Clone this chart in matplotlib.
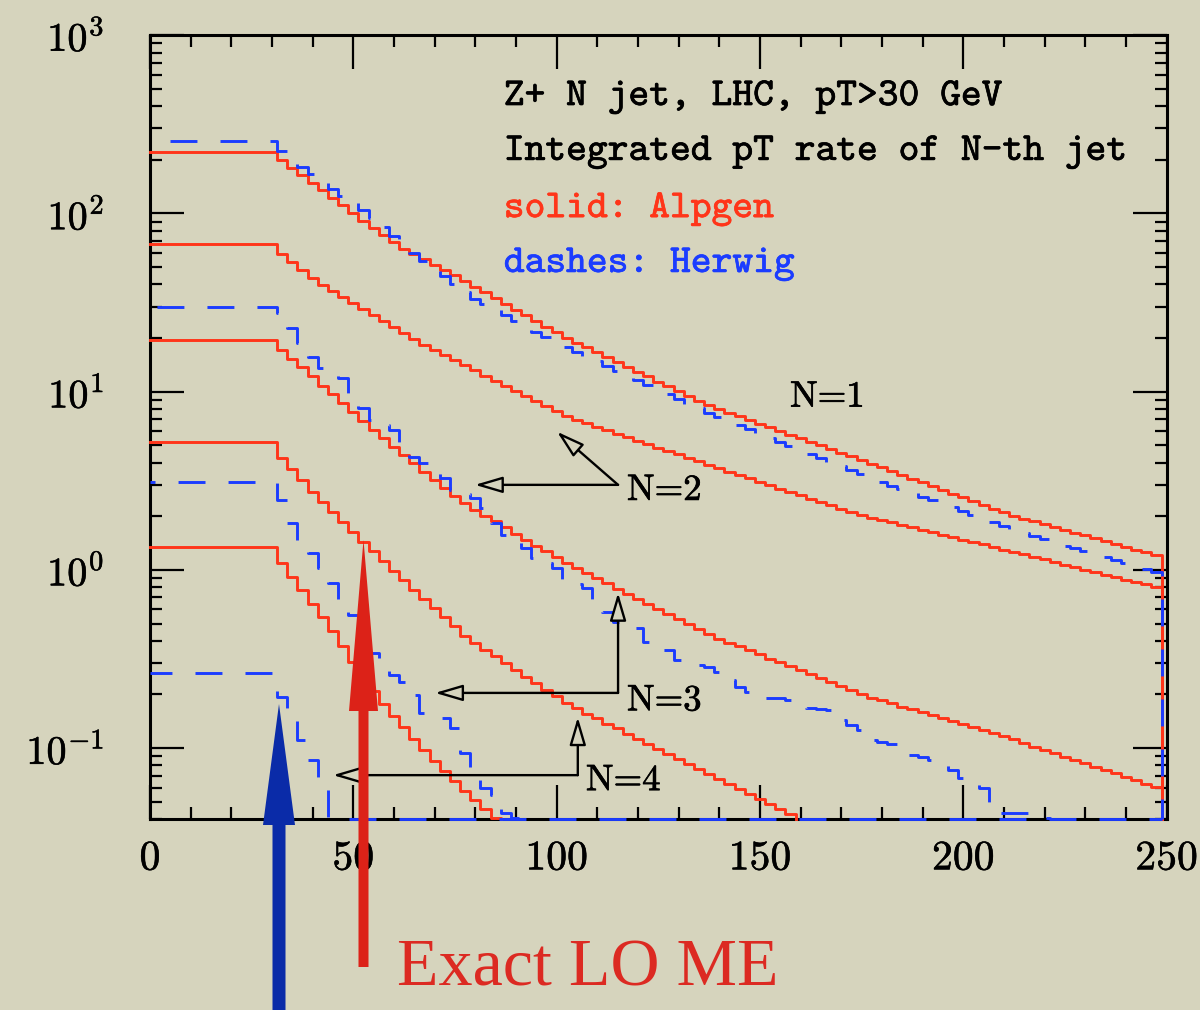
import numpy as np
import matplotlib
matplotlib.use("Agg")
import matplotlib.pyplot as plt
import matplotlib.patheffects as pe
from matplotlib.patches import Polygon
from matplotlib.ticker import FixedLocator, FixedFormatter, MultipleLocator, LogLocator, NullFormatter

# ---------------- data ----------------
PT_CUT = 30.0            # all curves are flat below the jet pT cut
FIRST_EDGE = 31.25       # first histogram edge after the flat part
BIN_WIDTH = 2.5          # histogram bin width (GeV)
YMIN, YMAX = 0.04, 1000.0

x_ticks = [0, 50, 100, 150, 200, 250]
x_tick_labels = ["0", "50", "100", "150", "200", "250"]
y_ticks = [0.1, 1, 10, 100, 1000]
y_tick_labels = [r"$10^{-1}$", r"$10^{0}$", r"$10^{1}$", r"$10^{2}$", r"$10^{3}$"]

# Alpgen (solid red): integrated rate below the cut, then per 2.5 GeV bin
alpgen_flat = [220.0, 67.6, 19.4, 5.25, 1.35]
alpgen_1 = [199, 180, 164, 148, 135, 122, 111, 100, 91.2, 83.0,
            75.7, 69.0, 63.5, 59.3, 55.3, 51.5, 48.1, 44.9, 41.9, 38.9,
            36.1, 33.5, 31.1, 28.8, 26.8, 24.9, 23.2, 21.5, 20.0, 18.8,
            17.7, 16.6, 15.6, 14.7, 13.8, 12.9, 12.2, 11.4, 10.7, 10.1,
            9.48, 8.91, 8.38, 7.98, 7.62, 7.28, 6.93, 6.62, 6.32, 6.03,
            5.75, 5.50, 5.24, 5.00, 4.78, 4.55, 4.35, 4.14, 3.95, 3.77,
            3.58, 3.41, 3.25, 3.10, 2.95, 2.81, 2.67, 2.55, 2.43, 2.31,
            2.20, 2.10, 2.01, 1.94, 1.87, 1.80, 1.74, 1.68, 1.62, 1.56,
            1.51, 1.45, 1.40, 1.35, 1.30, 1.26, 1.21]
alpgen_2 = [58.9, 53.2, 48.1, 43.6, 39.6, 36.6, 33.9, 31.3, 29.0, 26.9,
            24.8, 23.0, 21.3, 19.7, 18.3, 17.1, 16.0, 15.0, 14.1, 13.2,
            12.3, 11.5, 10.8, 10.1, 9.46, 8.87, 8.32, 7.78, 7.29, 6.93,
            6.64, 6.34, 6.07, 5.81, 5.55, 5.31, 5.08, 4.85, 4.65, 4.45,
            4.25, 4.06, 3.89, 3.72, 3.56, 3.41, 3.27, 3.13, 2.99, 2.86,
            2.74, 2.62, 2.51, 2.41, 2.31, 2.21, 2.11, 2.03, 1.96, 1.90,
            1.85, 1.79, 1.73, 1.68, 1.63, 1.57, 1.53, 1.48, 1.43, 1.39,
            1.35, 1.30, 1.26, 1.22, 1.18, 1.15, 1.11, 1.07, 1.04, 1.00,
            0.973, 0.942, 0.912, 0.883, 0.855, 0.828, 0.800]
alpgen_3 = [17.2, 15.3, 13.7, 12.2, 10.8, 9.66, 8.61, 7.67, 6.84, 6.11,
            5.48, 4.92, 4.42, 3.96, 3.56, 3.19, 2.87, 2.61, 2.37, 2.17,
            2.01, 1.87, 1.73, 1.60, 1.48, 1.37, 1.27, 1.18, 1.09, 1.02,
            0.955, 0.895, 0.839, 0.785, 0.736, 0.689, 0.646, 0.605, 0.566, 0.531,
            0.497, 0.466, 0.437, 0.411, 0.391, 0.372, 0.353, 0.336, 0.318, 0.303,
            0.288, 0.274, 0.260, 0.247, 0.235, 0.223, 0.212, 0.202, 0.192, 0.185,
            0.178, 0.171, 0.165, 0.159, 0.153, 0.147, 0.141, 0.136, 0.131, 0.126,
            0.121, 0.117, 0.112, 0.107, 0.102, 0.098, 0.0938, 0.0897, 0.0859, 0.0822,
            0.0787, 0.0753, 0.0721, 0.0689, 0.0659, 0.0631, 0.0604]
alpgen_4 = [4.26, 3.68, 3.18, 2.75, 2.39, 2.10, 1.85, 1.64, 1.44, 1.27,
            1.12, 0.989, 0.873, 0.771, 0.685, 0.610, 0.542, 0.482, 0.428, 0.387,
            0.356, 0.327, 0.299, 0.275, 0.252, 0.232, 0.213, 0.195, 0.179, 0.167,
            0.156, 0.147, 0.137, 0.129, 0.120, 0.112, 0.105, 0.0986, 0.0923, 0.0865,
            0.0811, 0.0760, 0.0713, 0.0668, 0.0627, 0.0587, 0.0551, 0.0516, 0.0484, 0.0454,
            0.0426]
alpgen_5 = [1.09, 0.918, 0.771, 0.647, 0.543, 0.453, 0.372, 0.305, 0.254, 0.210,
            0.176, 0.152, 0.131, 0.113, 0.0979, 0.0851, 0.0745, 0.0653, 0.0575, 0.0512,
            0.0455, 0.0405]

# Herwig (dashed blue)
herwig_flat = [255.0, 30.0, 3.12, 0.263]
herwig_1 = [224, 202, 182, 166, 151, 137, 125, 114, 104, 93.8,
            83.9, 75.2, 67.3, 60.3, 54.2, 49.0, 44.4, 40.1, 36.3, 33.3,
            31.0, 28.8, 26.9, 25.0, 23.2, 21.6, 20.2, 19.0, 17.8, 16.7,
            15.7, 14.8, 13.9, 13.1, 12.3, 11.6, 10.9, 10.3, 9.66, 9.10,
            8.57, 8.05, 7.59, 7.18, 6.82, 6.47, 6.14, 5.82, 5.52, 5.24,
            4.97, 4.71, 4.47, 4.24, 4.02, 3.81, 3.62, 3.44, 3.27, 3.11,
            2.96, 2.83, 2.70, 2.58, 2.46, 2.35, 2.24, 2.14, 2.04, 1.95,
            1.86, 1.77, 1.69, 1.61, 1.54, 1.49, 1.43, 1.37, 1.32, 1.27,
            1.22, 1.18, 1.13, 1.09, 1.05, 1.01, 0.971]
herwig_2 = [27.8, 22.9, 18.8, 15.7, 13.6, 12.8, 12.0, 9.87, 8.13, 6.97,
            6.53, 6.12, 5.17, 4.31, 3.99, 3.65, 3.29, 2.81, 2.67, 2.54,
            2.23, 1.84, 1.57, 1.44, 1.33, 1.17, 1.09, 1.03, 0.879, 0.834,
            0.792, 0.661, 0.581, 0.510, 0.491, 0.472, 0.394, 0.374, 0.356, 0.312,
            0.301, 0.293, 0.285, 0.267, 0.241, 0.220, 0.206, 0.199, 0.191, 0.191,
            0.186, 0.170, 0.168, 0.166, 0.163, 0.144, 0.135, 0.126, 0.111, 0.108,
            0.105, 0.104, 0.0914, 0.0890, 0.0857, 0.0802, 0.0752, 0.0678, 0.0635, 0.0596,
            0.0491, 0.0431, 0.0431, 0.0431, 0.0431, 0.0405]
herwig_3 = [2.47, 1.84, 1.47, 1.25, 1.03, 0.845, 0.678, 0.558, 0.449, 0.342,
            0.312, 0.257, 0.235, 0.199, 0.157, 0.153, 0.148, 0.129, 0.0938, 0.0705,
            0.0596, 0.0545, 0.0431, 0.0405]
herwig_4 = [0.193, 0.153, 0.111, 0.0857, 0.0604,
            0, 0, 0, 0, 0, 0, 0, 0, 0, 0, 0, 0, 0, 0, 0, 0, 0, 0, 0, 0,
            0, 0, 0, 0, 0, 0, 0, 0, 0, 0, 0, 0, 0, 0, 0, 0, 0, 0, 0, 0,
            0, 0, 0, 0, 0, 0, 0, 0, 0, 0, 0, 0, 0, 0, 0, 0, 0, 0, 0, 0,
            0, 0, 0, 0, 0, 0, 0, 0, 0, 0, 0, 0, 0, 0, 0, 0, 0, 0, 0, 0,
            0, 0]

# annotation texts
header_lines = ["Z+ N jet, LHC, pT>30 GeV", "Integrated pT rate of N-th jet",
                "solid: Alpgen", "dashes: Herwig"]
n_labels = ["N=1", "N=2", "N=3", "N=4"]

# ---------------- style ----------------
plt.rcParams["lines.scale_dashes"] = False
plt.rcParams["mathtext.fontset"] = "cm"

BG = "#d6d4bd"
RED = "#ff3519"
BLUE = "#1b3cff"
LW = 2.1

fig = plt.figure(figsize=(12, 10.1), dpi=100, facecolor=BG)
ax = fig.add_axes([0.125, 0.1891, 0.8472, 0.7760])
ax.set_facecolor(BG)


def step_path(flat, vals):
    vals = np.maximum(np.asarray(vals, dtype=float), YMIN)
    n = len(vals)
    edges = FIRST_EDGE + BIN_WIDTH * np.arange(n + 1)
    xs = np.concatenate([[0.0], edges, [edges[-1]]])
    ys = np.concatenate([[flat], vals, [vals[-1]], [YMIN]])
    return xs, ys


for flat, vals in zip(alpgen_flat, [alpgen_1, alpgen_2, alpgen_3, alpgen_4, alpgen_5]):
    xs, ys = step_path(flat, vals)
    ax.plot(xs, ys, drawstyle="steps-post", color=RED, lw=LW, zorder=3, clip_on=False)

dash_offsets = [21.6, 31.0, 15.8, 3.6]
for flat, vals, off in zip(herwig_flat, [herwig_1, herwig_2, herwig_3, herwig_4], dash_offsets):
    xs, ys = step_path(flat, vals)
    ax.plot(xs, ys, drawstyle="steps-post", color=BLUE, lw=LW, zorder=4, clip_on=False,
            linestyle=(off, (19.4, 16.6)), dash_capstyle="butt")

ax.set_xlim(0, 250)
ax.set_yscale("log")
ax.set_ylim(YMIN, YMAX)

ax.xaxis.set_major_locator(FixedLocator(x_ticks))
ax.xaxis.set_major_formatter(FixedFormatter(x_tick_labels))
ax.xaxis.set_minor_locator(MultipleLocator(10))
ax.yaxis.set_major_locator(FixedLocator(y_ticks))
ax.yaxis.set_major_formatter(FixedFormatter(y_tick_labels))
ax.yaxis.set_minor_locator(LogLocator(base=10, subs=np.arange(2, 10)))
ax.yaxis.set_minor_formatter(NullFormatter())

ax.tick_params(which="both", direction="in", top=True, right=True, color="black", width=1.6)
ax.tick_params(which="major", length=24.5)
ax.tick_params(which="minor", length=8.6)
ax.tick_params(axis="x", which="major", pad=15, labelsize=30)
ax.tick_params(axis="y", which="major", pad=33, labelsize=29)
semi = [pe.withStroke(linewidth=0.4, foreground="black")]
for lab in ax.get_xticklabels():
    lab.set_fontfamily("cmr10")
    lab.set_path_effects(semi)
for lab in ax.get_yticklabels():
    lab.set_path_effects(semi)
for sp in ax.spines.values():
    sp.set_linewidth(2.2)

# header text
hdr_colors = ["black", "black", RED, BLUE]
hdr_y = [0.911, 0.841, 0.768, 0.698]
for txt, c, yy in zip(header_lines, hdr_colors, hdr_y):
    ax.text(0.348, yy, txt, transform=ax.transAxes, fontsize=28.5, family="cmtt10",
            color=c, va="baseline", ha="left",
            path_effects=[pe.withStroke(linewidth=0.5, foreground=c)])

# N labels
n_pos = [(157.4, 8.24), (117.3, 2.47), (117.3, 0.163), (107.2, 0.0581)]
for txt, (xx, yy) in zip(n_labels, n_pos):
    ax.text(xx, yy, txt, fontsize=26.5, family="cmr10", va="baseline", ha="left", zorder=6,
            path_effects=[pe.withStroke(linewidth=0.5, foreground="black")])

AP = dict(arrowstyle="-|>,head_length=0.85,head_width=0.25", mutation_scale=20, lw=1.7,
          ec="black", fc=BG, shrinkA=0, shrinkB=0)
# N=2
ax.annotate("", xy=(79.9, 3.0), xytext=(115.1, 3.0), arrowprops=AP, zorder=6)
ax.annotate("", xy=(100.1, 5.96), xytext=(115.1, 3.0), arrowprops=AP, zorder=6)
# N=3
ax.annotate("", xy=(70.1, 0.204), xytext=(115.1, 0.204), arrowprops=AP, zorder=6)
ax.annotate("", xy=(115.1, 0.743), xytext=(115.1, 0.204), arrowprops=AP, zorder=6)
# N=4
ax.annotate("", xy=(45.0, 0.0705), xytext=(105.2, 0.0705), arrowprops=AP, zorder=6)
ax.annotate("", xy=(105.2, 0.149), xytext=(105.2, 0.0705), arrowprops=AP, zorder=6)

# overlay for the big slide arrows and caption (figure pixel coordinates)
ov = fig.add_axes([0, 0, 1, 1], zorder=10)
ov.set_xlim(0, 1200)
ov.set_ylim(1010, 0)
ov.axis("off")
ov.patch.set_alpha(0)
ov.add_patch(Polygon([(272.5, 1015), (272.5, 825), (263, 825), (279, 704), (295, 825),
                      (285.5, 825), (285.5, 1015)], closed=True, fc="#0a2ba8", ec="none"))
ov.add_patch(Polygon([(358.5, 967), (358.5, 711), (349, 711), (363.5, 540), (378, 711),
                      (368.5, 711), (368.5, 967)], closed=True, fc="#dc2218", ec="none"))
ov.text(397, 985, "Exact LO ME", fontsize=49, family="Liberation Serif", color="#dc2a22",
        va="baseline", ha="left")

fig.savefig("out.png", dpi=100, facecolor=BG)
